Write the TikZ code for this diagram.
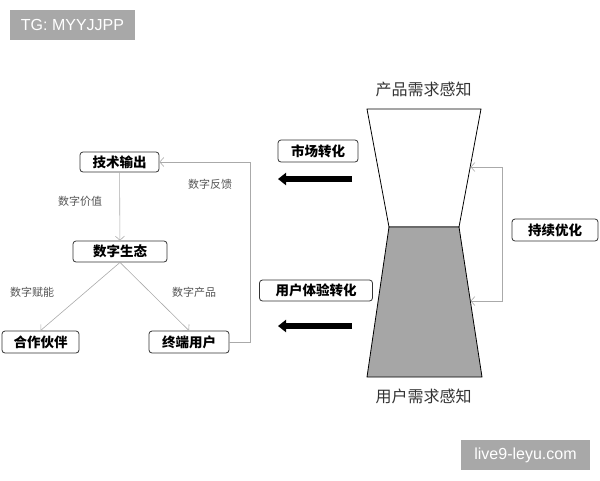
\documentclass[tikz,border=0pt]{standalone}
\usepackage{fontspec}
\setmainfont{Noto Sans CJK SC}
\newfontfamily\latinsans{Liberation Sans}
\usetikzlibrary{arrows.meta}
\definecolor{wmgray}{HTML}{A8A8A8}
\definecolor{hgfill}{HTML}{A6A6A6}
\definecolor{conngray}{HTML}{AAAAAA}
\definecolor{lblgray}{HTML}{555555}
\definecolor{capgray}{HTML}{333333}
\begin{document}
\begin{tikzpicture}[x=1pt,y=-1pt,
  box/.style={draw=black!80, line width=0.8pt, rounded corners=3pt, fill=white, inner sep=0pt, minimum height=21pt, font=\fontsize{13.5}{14}\selectfont\bfseries},
  edgelbl/.style={text=lblgray, font=\fontsize{11}{12}\selectfont, inner sep=0pt},
  caption/.style={text=capgray, font=\fontsize{16}{17}\selectfont, inner sep=0pt},
  conn/.style={draw=conngray, line width=0.6pt, -{Straight Barb[length=4pt,width=9pt]}},
  bigarrow/.style={line width=6pt, -{Triangle[length=8pt,width=12pt]}},
  wm/.style={fill=wmgray, text=white, inner sep=0pt, font=\latinsans\fontsize{16}{17}\selectfont}]
\useasboundingbox (0,0) rectangle (600,480);

% watermarks
\node[wm, minimum width=125pt, minimum height=30pt] (tg) at (72.5,25) {TG: MYYJJPP};
\node[wm, minimum width=129pt, minimum height=30pt] (site) at (525.5,455) {live9-leyu.com};

% left diagram
\node[box, minimum width=79pt, minimum height=20pt] (tech) at (119.5,162) {技术输出};
\node[box, minimum width=94pt] (eco) at (120,251.5) {数字生态};
\node[box, minimum width=77pt, minimum height=22pt] (partner) at (40.5,342) {合作伙伴};
\node[box, minimum width=80pt, minimum height=22pt] (user) at (189,342) {终端用户};

\draw[conn] (tech) -- (eco);
\draw[conn] (eco.south) -- (partner.north);
\draw[conn] (eco.south) -- (user.north);
\draw[conn] (user.east) -- ++(21,0) |- (tech.east);

\node[edgelbl] (l1) at (80,201) {数字价值};
\node[edgelbl] (l2) at (32,292) {数字赋能};
\node[edgelbl] (l3) at (194,292) {数字产品};
\node[edgelbl] (l4) at (210,184) {数字反馈};

% hourglass
\draw[line width=0.8pt, fill=white] (367,109) -- (481,109) -- (459,227) -- (389,227) -- cycle;
\draw[line width=0.8pt, fill=hgfill] (389,227) -- (459,227) -- (482,377) -- (367,377) -- cycle;
\node[caption] (top) at (423.5,89) {产品需求感知};
\node[caption] (bottom) at (423.5,396) {用户需求感知};

\coordinate (hgA) at (470.5,167);
\coordinate (hgB) at (470.5,301);
\draw[conn, {Straight Barb[length=4pt,width=9pt]}-{Straight Barb[length=4pt,width=9pt]}] (hgA) -- ++(32,0) |- (hgB);
\node[box, minimum width=86pt, minimum height=22pt] (opt) at (555,230) {持续优化};

% conversions
\node[box, minimum width=80pt, minimum height=22pt] (market) at (318,151) {市场转化};
\node[box, minimum width=113pt] (ux) at (316,290.5) {用户体验转化};
\coordinate (a1s) at (352,179);
\coordinate (a1e) at (278,179);
\coordinate (a2s) at (352,326);
\coordinate (a2e) at (278,326);
\draw[bigarrow] (a1s) -- (a1e);
\draw[bigarrow] (a2s) -- (a2e);
\end{tikzpicture}
\end{document}
